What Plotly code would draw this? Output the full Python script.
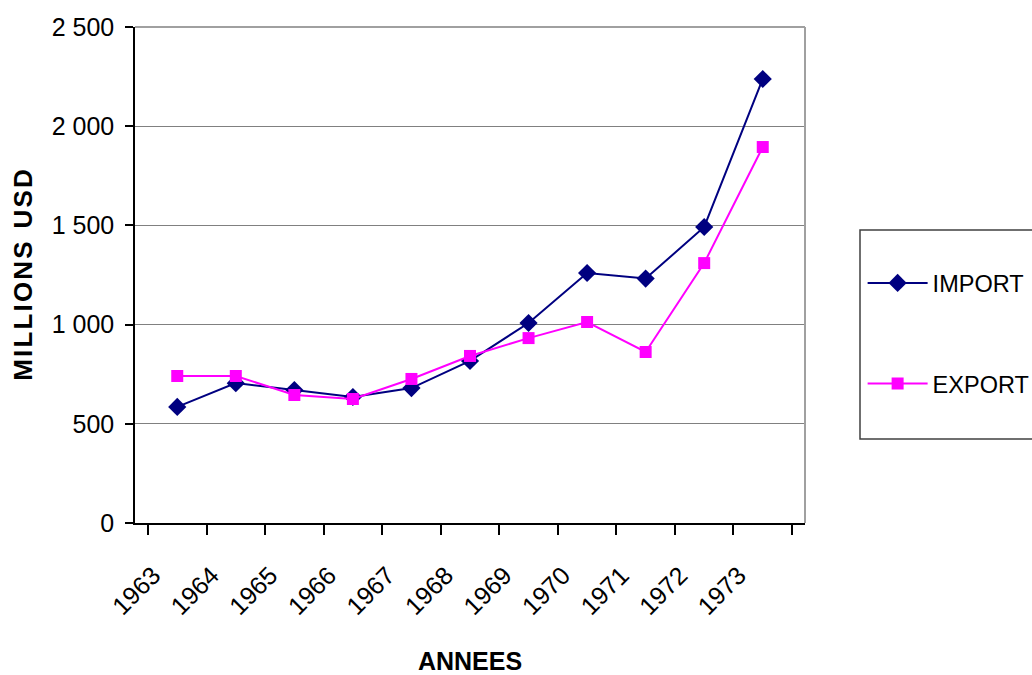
import plotly.graph_objects as go

years = ["1963", "1964", "1965", "1966", "1967", "1968", "1969", "1970", "1971", "1972", "1973"]
imports = [585, 705, 670, 635, 680, 817, 1008, 1260, 1232, 1492, 2238]
exports = [741, 741, 645, 625, 726, 842, 932, 1013, 862, 1310, 1895]
y_ticks = [0, 500, 1000, 1500, 2000, 2500]
y_tick_labels = ["0", "500", "1 000", "1 500", "2 000", "2 500"]

FONT = "Liberation Sans, Arial, sans-serif"
HS = "\u200a"
y_title = HS.join("MILLIONS") + "\u2002" + HS.join("USD")

fig = go.Figure()
fig.add_trace(go.Scatter(
    x=years, y=imports, name="IMPORT", mode="lines+markers",
    line=dict(color="#000080", width=2),
    marker=dict(symbol="diamond", size=14, color="#000080"),
    legendgroup="imp",
))
fig.add_trace(go.Scatter(
    x=years, y=exports, name="EXPORT", mode="lines+markers",
    line=dict(color="#FF00FF", width=2),
    marker=dict(symbol="square", size=12, color="#FF00FF"),
    legendgroup="exp",
))

fig.update_layout(
    width=1032, height=675,
    margin=dict(l=135, r=227, t=27, b=152, autoexpand=False),
    paper_bgcolor="white", plot_bgcolor="white",
    font=dict(family=FONT, size=25, color="black"),
    showlegend=True,
    legend=dict(
        x=1.086, y=0.528, xanchor="left", yanchor="top",
        bgcolor="rgba(0,0,0,0)", borderwidth=0,
        tracegroupgap=67, itemwidth=60,
        font=dict(family=FONT, size=23.5, color="black"),
    ),
)

fig.update_xaxes(
    type="category", tickson="boundaries",
    ticks="outside", ticklen=10, tickwidth=1.5, tickcolor="black",
    showline=True, linecolor="black", linewidth=1.5,
    showgrid=False, tickangle=-45, ticklabelstandoff=26, ticklabelshift=-24,
    tickfont=dict(family=FONT, size=25),
    title=dict(text="<b>ANNEES</b>", font=dict(family=FONT, size=25), standoff=42),
)
fig.update_yaxes(
    range=[0, 2500], tickmode="array", tickvals=y_ticks, ticktext=y_tick_labels,
    ticks="outside", ticklen=8, tickwidth=1.5, tickcolor="black",
    showline=True, linecolor="black", linewidth=1.5,
    showgrid=True, gridcolor="#808080", gridwidth=1.3,
    zeroline=False, ticklabelstandoff=6,
    tickfont=dict(family=FONT, size=25),
    title=dict(text="<b>" + y_title + "</b>", font=dict(family=FONT, size=26), standoff=12),
)

# top and right border of plot area
fig.add_shape(type="line", xref="paper", yref="paper", x0=0, x1=1, y0=1, y1=1,
              line=dict(color="#808080", width=1.5))
fig.add_shape(type="line", xref="paper", yref="paper", x0=1, x1=1, y0=0, y1=1,
              line=dict(color="#a0a0a0", width=2))
# legend frame
fig.add_shape(type="rect", xref="paper", yref="paper",
              x0=(860 - 135) / 670, x1=1.6, y0=(523 - 439) / 496, y1=(523 - 230) / 496,
              line=dict(color="#404040", width=1.5), fillcolor="rgba(0,0,0,0)")

fig.write_html("out.html", config={"displayModeBar": False},
               post_script="document.body.style.margin='0';")
